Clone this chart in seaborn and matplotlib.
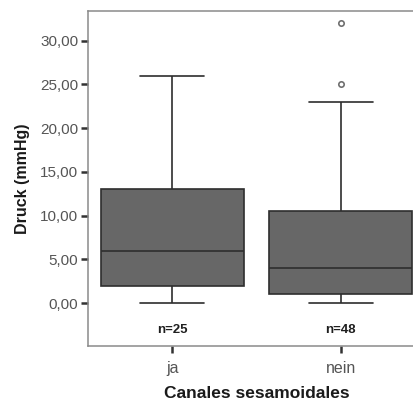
import matplotlib

matplotlib.use("Agg")
import matplotlib.pyplot as plt
import pandas as pd
import seaborn as sns

# five-number summaries (whisker low, Q1, median, Q3, whisker high)
groups = ["ja", "nein"]
ja_stats = [0.0, 2.0, 6.0, 13.0, 26.0]
nein_stats = [0.0, 1.0, 4.0, 10.5, 23.0]
nein_outliers = [25.0, 32.0]
n_labels = ["n=25", "n=48"]
yticks = [0, 5, 10, 15, 20, 25, 30]

BOX = "#676767"
LINE = "#2e2e2e"
FRAME = "#8a8a8a"
TICKTXT = "#555555"

df = pd.DataFrame(
    {
        "grp": [groups[0]] * len(ja_stats) + [groups[1]] * len(nein_stats),
        "val": ja_stats + nein_stats,
    }
)
out_df = pd.DataFrame({"grp": [groups[1]] * len(nein_outliers), "val": nein_outliers})

sns.set_theme(style="white")
plt.rcParams["font.family"] = ["Liberation Sans", "DejaVu Sans"]

fig = plt.figure(figsize=(4.14, 4.01), dpi=100)
ax = fig.add_axes([88 / 414, 55 / 401, (425 - 88) / 414, 335 / 401])

line_kw = {"color": LINE, "linewidth": 1.2}
sns.boxplot(
    data=df,
    x="grp",
    y="val",
    order=groups,
    ax=ax,
    whis=(0, 100),
    width=0.85,
    color=BOX,
    saturation=1,
    linecolor=LINE,
    linewidth=1.2,
    showfliers=False,
    medianprops=line_kw,
    whiskerprops=line_kw,
    capprops=line_kw,
)
for p in ax.patches:
    p.set_facecolor(BOX)

# caps are a bit narrower in the reference
for ln in ax.lines:
    xs, ys = ln.get_xdata(), ln.get_ydata()
    if len(xs) == 2 and ys[0] == ys[1] and xs[0] != xs[1]:
        c = (xs[0] + xs[1]) / 2
        h = (xs[1] - xs[0]) / 2
        if abs(h) < 0.3:
            ln.set_xdata([c - h * 0.9, c + h * 0.9])

sns.scatterplot(
    data=out_df,
    x="grp",
    y="val",
    ax=ax,
    marker="o",
    s=15,
    facecolor="white",
    edgecolor="#707070",
    linewidth=1.2,
    zorder=5,
)

for i, lab in enumerate(n_labels):
    ax.text(i, -3.1, lab, ha="center", va="center", fontsize=9.5, fontweight="bold",
            color="#1f1f1f")

ax.set_xlim(-0.5, 1.5)
ax.set_ylim(-4.9, 33.4)
ax.set_yticks(yticks)
ax.set_yticklabels([f"{v:.2f}".replace(".", ",") for v in yticks])
ax.tick_params(axis="both", direction="out", length=5, width=1.8, color="#333333",
               labelcolor=TICKTXT, labelsize=11, left=True, bottom=True, pad=2)
ax.tick_params(axis="x", pad=6, labelsize=11.5)

for s in ax.spines.values():
    s.set_color(FRAME)
    s.set_linewidth(1.1)

ax.set_xlabel("Canales sesamoidales", fontsize=12.5, fontweight="bold", color="#1a1a1a", labelpad=7)
ax.set_ylabel("Druck (mmHg)", fontsize=11.5, fontweight="bold", color="#1a1a1a", labelpad=7)

fig.savefig("out.png", dpi=100, facecolor="white")
